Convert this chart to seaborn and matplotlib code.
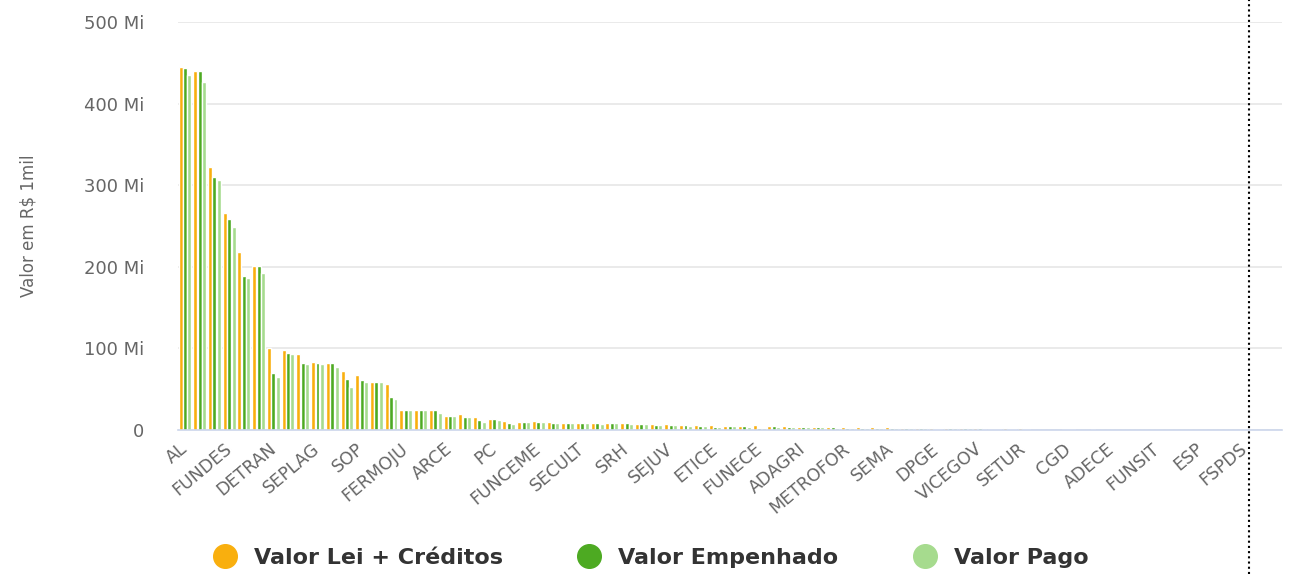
import matplotlib
matplotlib.use("Agg")
import matplotlib.pyplot as plt
import seaborn as sns
import pandas as pd
from matplotlib.lines import Line2D

categories = [
    "AL", "Órgão 02", "Órgão 03", "FUNDES", "Órgão 05", "Órgão 06",
    "DETRAN", "Órgão 08", "Órgão 09", "SEPLAG", "Órgão 11", "Órgão 12",
    "SOP", "Órgão 14", "Órgão 15", "FERMOJU", "Órgão 17", "Órgão 18",
    "ARCE", "Órgão 20", "Órgão 21", "PC", "Órgão 23", "Órgão 24",
    "FUNCEME", "Órgão 26", "Órgão 27", "SECULT", "Órgão 29", "Órgão 30",
    "SRH", "Órgão 32", "Órgão 33", "SEJUV", "Órgão 35", "Órgão 36",
    "ETICE", "Órgão 38", "Órgão 39", "FUNECE", "Órgão 41", "Órgão 42",
    "ADAGRI", "Órgão 44", "Órgão 45", "METROFOR", "Órgão 47", "Órgão 48",
    "SEMA", "Órgão 50", "Órgão 51", "DPGE", "Órgão 53", "Órgão 54",
    "VICEGOV", "Órgão 56", "Órgão 57", "SETUR", "Órgão 59", "Órgão 60",
    "CGD", "Órgão 62", "Órgão 63", "ADECE", "Órgão 65", "Órgão 66",
    "FUNSIT", "Órgão 68", "Órgão 69", "ESP", "Órgão 71", "Órgão 72",
    "FSPDS", "Órgão 74", "Órgão 75",
]

valor_lei_creditos = [
    445, 440, 322, 266, 218, 201, 101, 98, 93, 83, 82, 72, 67, 59, 56,
    25, 24, 24, 17, 19, 16, 13, 11, 10, 11, 10, 9, 9, 8, 9,
    8, 7, 7, 7, 6, 6, 6, 5, 5, 6, 5, 5, 4, 4, 4,
    4, 4, 4, 4, 3, 2, 2, 3, 2, 2, 1.5, 2, 2, 0.5, 0.5,
    1.5, 0.3, 1.5, 0, 0, 0, 0, 0, 0, 0, 0, 0, 0, 0, 0,
]

valor_empenhado = [
    443, 440, 310, 258, 189, 201, 70, 94, 82, 82, 82, 63, 61, 59, 40,
    25, 24, 24, 17, 16, 12, 13, 8, 10, 10, 9, 9, 9, 8, 8,
    8, 7, 6, 6, 6, 5, 4, 5, 5, 3, 5, 4, 4, 4, 4,
    3, 3, 3, 2, 2, 2, 1.5, 2, 2, 2, 1.5, 1.5, 1, 0.3, 0.3,
    1.5, 0.2, 0, 0, 0, 0, 0, 0, 0, 0, 0, 0, 0, 0, 0,
]

valor_pago = [
    435, 427, 306, 249, 186, 192, 65, 93, 81, 81, 77, 53, 59, 59, 38,
    25, 24, 21, 17, 16, 10, 12, 7, 10, 10, 9, 9, 8, 7, 8,
    7, 7, 6, 6, 5, 5, 4, 5, 4, 3, 4, 4, 4, 4, 3,
    3, 3, 3, 2, 2, 2, 1.5, 2, 2, 1.5, 1.5, 1.5, 1, 0.3, 0.3,
    1.5, 0.2, 0, 0, 0, 0, 0, 0, 0, 0, 0, 0, 0, 0, 0,
]

series_names = ["Valor Lei + Créditos", "Valor Empenhado", "Valor Pago"]
colors = ["#F9AF0E", "#4DAA22", "#A6DB8E"]
y_ticks = [0, 100, 200, 300, 400, 500]
y_tick_labels = ["0", "100 Mi", "200 Mi", "300 Mi", "400 Mi", "500 Mi"]

rows = []
for name, vals in zip(series_names, [valor_lei_creditos, valor_empenhado, valor_pago]):
    for c, v in zip(categories, vals):
        rows.append({"orgao": c, "serie": name, "valor": v})
df = pd.DataFrame(rows)

sns.set_theme(style="white")
plt.rcParams["font.family"] = ["DejaVu Sans"]

fig = plt.figure(figsize=(12.92, 5.74), dpi=100)
ax = fig.add_axes([0.1375, 0.2509, 0.8545, 0.7108])

sns.barplot(data=df, x="orgao", y="valor", hue="serie", order=categories,
            hue_order=series_names, palette=colors, width=0.9, gap=0.1,
            saturation=1, ax=ax, legend=False)

ax.set_ylim(0, 500)
ax.set_xlim(-0.5, len(categories) - 0.5)
ax.set_yticks(y_ticks)
ax.set_yticklabels(y_tick_labels)
ax.yaxis.grid(True, color="#E6E6E6", linewidth=1.2)
ax.set_axisbelow(True)
for s in ["top", "right", "left"]:
    ax.spines[s].set_visible(False)
ax.spines["bottom"].set_color("#CCD6EB")
ax.spines["bottom"].set_linewidth(1.2)

ax.tick_params(axis="y", length=0, pad=24, labelsize=13, labelcolor="#666666")
tick_pos = list(range(0, len(categories), 3))
ax.set_xticks(tick_pos)
ax.set_xticklabels([categories[i] for i in tick_pos], rotation=40, ha="right",
                   va="center", rotation_mode="anchor")
ax.tick_params(axis="x", length=0, pad=12, labelsize=12.5, labelcolor="#666666")
ax.set_xlabel("")
ax.set_ylabel("Valor em R$ 1mil", fontsize=12, color="#666666")
ax.yaxis.set_label_coords(-0.127, 0.5)

handles = [Line2D([0], [0], marker="o", linestyle="", markersize=17,
                  markerfacecolor=c, markeredgecolor=c) for c in colors]
leg = fig.legend(handles, series_names, loc="lower center", bbox_to_anchor=(0.503, -0.024),
                 ncol=3, frameon=False, handlelength=1.2, handletextpad=0.7,
                 columnspacing=3.3, prop={"weight": "bold", "size": 16})
for t in leg.get_texts():
    t.set_color("#333333")

fig.add_artist(Line2D([1249 / 1292, 1249 / 1292], [0, 1], transform=fig.transFigure,
                      color="black", linestyle=(0, (1, 1.5)), linewidth=1.5))

fig.savefig("out.png", dpi=100)
